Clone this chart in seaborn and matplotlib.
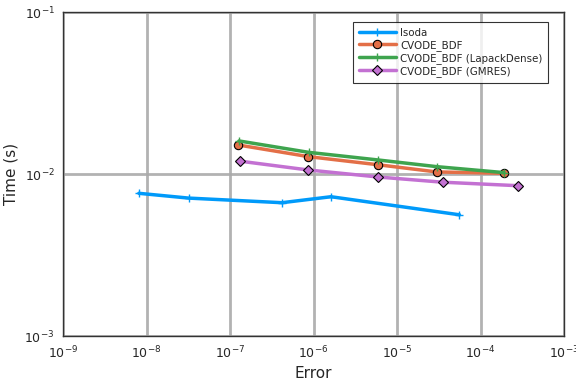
import numpy as np
import pandas as pd
import matplotlib
matplotlib.use("Agg")
import matplotlib.pyplot as plt
import seaborn as sns

# Data
lsoda_err = [8.1e-9, 3.2e-8, 4.2e-7, 1.62e-6, 5.6e-5]
lsoda_time = [7.6e-3, 7.1e-3, 6.65e-3, 7.24e-3, 5.6e-3]

bdf_err = [1.26e-7, 8.7e-7, 5.97e-6, 2.98e-5, 1.91e-4]
bdf_time = [1.51e-2, 1.28e-2, 1.14e-2, 1.03e-2, 1.01e-2]

lapack_err = [1.28e-7, 8.8e-7, 6.0e-6, 3.0e-5, 1.91e-4]
lapack_time = [1.6e-2, 1.36e-2, 1.22e-2, 1.11e-2, 1.02e-2]

gmres_err = [1.32e-7, 8.5e-7, 5.97e-6, 3.52e-5, 2.79e-4]
gmres_time = [1.2e-2, 1.06e-2, 9.58e-3, 8.9e-3, 8.47e-3]

names = ["lsoda", "CVODE_BDF", "CVODE_BDF (LapackDense)", "CVODE_BDF (GMRES)"]
colors = ["#009AFA", "#E36F47", "#3EA44E", "#C371D2"]
markers = ["+", "o", "+", "D"]

sns.set_style("white")
fig = plt.figure(figsize=(5.76, 3.84), dpi=100)
ax = fig.add_axes([63/576, 1 - 336/384, (564-63)/576, (336-12)/384])

series = [(lsoda_err, lsoda_time), (bdf_err, bdf_time),
          (lapack_err, lapack_time), (gmres_err, gmres_time)]
for (e, t), name, c, m in zip(series, names, colors, markers):
    df = pd.DataFrame({"err": e, "time": t})
    if m in ("o", "D"):
        kw = dict(markersize=6 if m == "o" else 5, markeredgecolor="black",
                  markeredgewidth=0.8, markerfacecolor=c)
    else:
        kw = dict(markersize=6, markeredgewidth=1.0, markeredgecolor=c)
    sns.lineplot(data=df, x="err", y="time", ax=ax, color=c, linewidth=2.5,
                 marker=m, label=name, sort=False, **kw)

ax.set_xscale("log")
ax.set_yscale("log")
ax.set_xlim(1e-9, 1e-3)
ax.set_ylim(1e-3, 1e-1)
ax.set_xticks([10.0**k for k in range(-9, -2)])
ax.set_yticks([1e-3, 1e-2, 1e-1])
ax.minorticks_off()
ax.grid(True, which="major", color="#aaaaaa", linewidth=2.0, alpha=0.9)
ax.set_axisbelow(True)
for s in ax.spines.values():
    s.set_color("#333333")
    s.set_linewidth(1.0)
ax.tick_params(axis="both", which="major", direction="in", length=4,
               labelsize=9, color="#333333", pad=6)
ax.set_xlabel("Error", fontsize=11)
ax.set_ylabel("Time (s)", fontsize=11)

leg = ax.legend(loc="upper right", bbox_to_anchor=(0.968, 0.968), fontsize=7.4,
                frameon=True, fancybox=False, edgecolor="black",
                handlelength=3.6, borderpad=0.55, labelspacing=0.2,
                handletextpad=0.4, borderaxespad=0)
leg.get_frame().set_linewidth(0.8)

fig.savefig("out.png", dpi=100)
